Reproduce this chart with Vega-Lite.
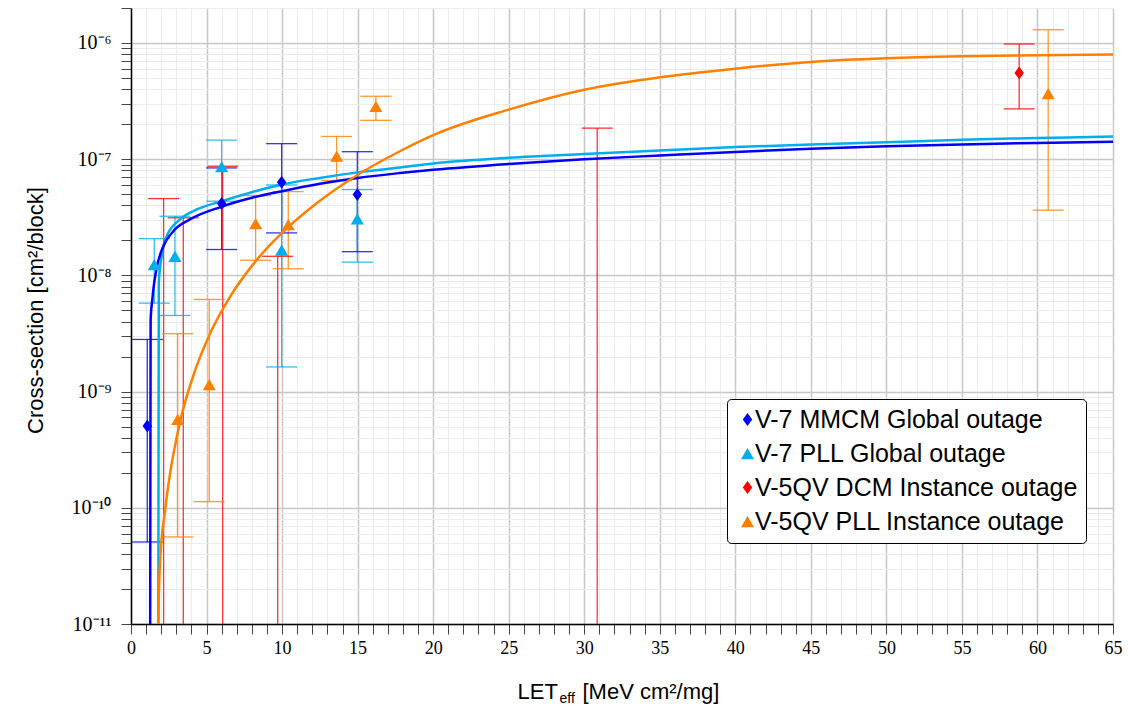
{
  "$schema": "https://vega.github.io/schema/vega-lite/v6.json",
  "width": 982,
  "height": 616,
  "autosize": {"type": "none"},
  "padding": {"left": 131, "top": 8, "right": 15, "bottom": 87},
  "background": "white",
  "config": {
    "view": {"stroke": null},
    "font": "Liberation Sans",
    "legend": {
      "strokeColor": "black",
      "fillColor": "white",
      "cornerRadius": 4,
      "padding": 8,
      "labelFont": "Liberation Sans",
      "labelFontSize": 25,
      "labelColor": "black",
      "labelLimit": 1000,
      "labelOffset": -5,
      "rowPadding": 8,
      "symbolSize": 225,
      "symbolStrokeWidth": 0
    }
  },
  "datasets": {
    "curves": [
      {"s": "V-7 PLL Global outage", "LET": 1.78, "sigma": 1e-13},
      {"s": "V-7 PLL Global outage", "LET": 1.81, "sigma": 1e-11},
      {"s": "V-7 PLL Global outage", "LET": 1.84, "sigma": 8.6e-9},
      {"s": "V-7 PLL Global outage", "LET": 2.03, "sigma": 1.46e-8},
      {"s": "V-7 PLL Global outage", "LET": 2.36, "sigma": 2.17e-8},
      {"s": "V-7 PLL Global outage", "LET": 3.24, "sigma": 3.03e-8},
      {"s": "V-7 PLL Global outage", "LET": 4.35, "sigma": 3.69e-8},
      {"s": "V-7 PLL Global outage", "LET": 6, "sigma": 4.35e-8},
      {"s": "V-7 PLL Global outage", "LET": 8, "sigma": 5.2e-8},
      {"s": "V-7 PLL Global outage", "LET": 10, "sigma": 6.05e-8},
      {"s": "V-7 PLL Global outage", "LET": 12.5, "sigma": 6.9e-8},
      {"s": "V-7 PLL Global outage", "LET": 15, "sigma": 7.7e-8},
      {"s": "V-7 PLL Global outage", "LET": 17.8, "sigma": 8.5e-8},
      {"s": "V-7 PLL Global outage", "LET": 20, "sigma": 9.2e-8},
      {"s": "V-7 PLL Global outage", "LET": 25, "sigma": 1.03e-7},
      {"s": "V-7 PLL Global outage", "LET": 30, "sigma": 1.11e-7},
      {"s": "V-7 PLL Global outage", "LET": 35, "sigma": 1.19e-7},
      {"s": "V-7 PLL Global outage", "LET": 40, "sigma": 1.27e-7},
      {"s": "V-7 PLL Global outage", "LET": 45, "sigma": 1.34e-7},
      {"s": "V-7 PLL Global outage", "LET": 50, "sigma": 1.40e-7},
      {"s": "V-7 PLL Global outage", "LET": 55, "sigma": 1.47e-7},
      {"s": "V-7 PLL Global outage", "LET": 60, "sigma": 1.52e-7},
      {"s": "V-7 PLL Global outage", "LET": 65, "sigma": 1.57e-7},
      {"s": "V-7 MMCM Global outage", "LET": 1.24, "sigma": 1e-13},
      {"s": "V-7 MMCM Global outage", "LET": 1.27, "sigma": 1e-11},
      {"s": "V-7 MMCM Global outage", "LET": 1.30, "sigma": 4.2e-9},
      {"s": "V-7 MMCM Global outage", "LET": 1.41, "sigma": 6.2e-9},
      {"s": "V-7 MMCM Global outage", "LET": 1.48, "sigma": 7.6e-9},
      {"s": "V-7 MMCM Global outage", "LET": 1.7, "sigma": 1.16e-8},
      {"s": "V-7 MMCM Global outage", "LET": 2.14, "sigma": 1.78e-8},
      {"s": "V-7 MMCM Global outage", "LET": 2.8, "sigma": 2.4e-8},
      {"s": "V-7 MMCM Global outage", "LET": 3.9, "sigma": 3.03e-8},
      {"s": "V-7 MMCM Global outage", "LET": 6, "sigma": 3.9e-8},
      {"s": "V-7 MMCM Global outage", "LET": 8, "sigma": 4.65e-8},
      {"s": "V-7 MMCM Global outage", "LET": 10, "sigma": 5.3e-8},
      {"s": "V-7 MMCM Global outage", "LET": 12.5, "sigma": 6.14e-8},
      {"s": "V-7 MMCM Global outage", "LET": 15, "sigma": 6.9e-8},
      {"s": "V-7 MMCM Global outage", "LET": 17.8, "sigma": 7.6e-8},
      {"s": "V-7 MMCM Global outage", "LET": 20, "sigma": 8.1e-8},
      {"s": "V-7 MMCM Global outage", "LET": 25, "sigma": 9.1e-8},
      {"s": "V-7 MMCM Global outage", "LET": 30, "sigma": 1.0e-7},
      {"s": "V-7 MMCM Global outage", "LET": 35, "sigma": 1.075e-7},
      {"s": "V-7 MMCM Global outage", "LET": 40, "sigma": 1.155e-7},
      {"s": "V-7 MMCM Global outage", "LET": 45, "sigma": 1.23e-7},
      {"s": "V-7 MMCM Global outage", "LET": 50, "sigma": 1.29e-7},
      {"s": "V-7 MMCM Global outage", "LET": 55, "sigma": 1.34e-7},
      {"s": "V-7 MMCM Global outage", "LET": 60, "sigma": 1.38e-7},
      {"s": "V-7 MMCM Global outage", "LET": 65, "sigma": 1.41e-7},
      {"s": "V-5QV PLL Instance outage", "LET": 1.78, "sigma": 1e-12},
      {"s": "V-5QV PLL Instance outage", "LET": 1.807, "sigma": 1e-11},
      {"s": "V-5QV PLL Instance outage", "LET": 1.92, "sigma": 3.37e-11},
      {"s": "V-5QV PLL Instance outage", "LET": 2.25, "sigma": 9.4e-11},
      {"s": "V-5QV PLL Instance outage", "LET": 2.58, "sigma": 1.95e-10},
      {"s": "V-5QV PLL Instance outage", "LET": 3.24, "sigma": 5.43e-10},
      {"s": "V-5QV PLL Instance outage", "LET": 4.24, "sigma": 1.52e-9},
      {"s": "V-5QV PLL Instance outage", "LET": 5.23, "sigma": 3.15e-9},
      {"s": "V-5QV PLL Instance outage", "LET": 6.55, "sigma": 6.53e-9},
      {"s": "V-5QV PLL Instance outage", "LET": 8.2, "sigma": 1.3e-8},
      {"s": "V-5QV PLL Instance outage", "LET": 9.99, "sigma": 2.32e-8},
      {"s": "V-5QV PLL Instance outage", "LET": 12.18, "sigma": 4.08e-8},
      {"s": "V-5QV PLL Instance outage", "LET": 14.96, "sigma": 7.28e-8},
      {"s": "V-5QV PLL Instance outage", "LET": 17.8, "sigma": 1.17e-7},
      {"s": "V-5QV PLL Instance outage", "LET": 20, "sigma": 1.61e-7},
      {"s": "V-5QV PLL Instance outage", "LET": 25, "sigma": 2.67e-7},
      {"s": "V-5QV PLL Instance outage", "LET": 30, "sigma": 3.96e-7},
      {"s": "V-5QV PLL Instance outage", "LET": 35, "sigma": 5.06e-7},
      {"s": "V-5QV PLL Instance outage", "LET": 40, "sigma": 6.01e-7},
      {"s": "V-5QV PLL Instance outage", "LET": 45, "sigma": 6.87e-7},
      {"s": "V-5QV PLL Instance outage", "LET": 50, "sigma": 7.38e-7},
      {"s": "V-5QV PLL Instance outage", "LET": 55, "sigma": 7.67e-7},
      {"s": "V-5QV PLL Instance outage", "LET": 60, "sigma": 7.83e-7},
      {"s": "V-5QV PLL Instance outage", "LET": 65, "sigma": 7.94e-7}
    ],
    "pts": [
      {"s": "V-7 MMCM Global outage", "LET": 1.08, "sigma": 5.05e-10, "lower": 5.08e-11, "upper": 2.81e-9},
      {"s": "V-7 MMCM Global outage", "LET": 6.0, "sigma": 4.15e-8, "lower": 1.67e-8, "upper": 8.41e-8},
      {"s": "V-7 MMCM Global outage", "LET": 9.97, "sigma": 6.32e-8, "lower": 2.32e-8, "upper": 1.36e-7},
      {"s": "V-7 MMCM Global outage", "LET": 14.98, "sigma": 4.97e-8, "lower": 1.6e-8, "upper": 1.16e-7},
      {"s": "V-7 PLL Global outage", "LET": 1.54, "sigma": 1.24e-8, "lower": 5.77e-9, "upper": 2.07e-8},
      {"s": "V-7 PLL Global outage", "LET": 2.91, "sigma": 1.46e-8, "lower": 4.52e-9, "upper": 3.23e-8},
      {"s": "V-7 PLL Global outage", "LET": 6.0, "sigma": 8.63e-8, "lower": 4.35e-8, "upper": 1.46e-7},
      {"s": "V-7 PLL Global outage", "LET": 9.97, "sigma": 1.65e-8, "lower": 1.63e-9, "upper": 6.0e-8},
      {"s": "V-7 PLL Global outage", "LET": 14.98, "sigma": 3.07e-8, "lower": 1.3e-8, "upper": 5.48e-8},
      {"s": "V-5QV DCM Instance outage", "LET": 2.16, "sigma": null, "lower": 1e-13, "upper": 4.58e-8},
      {"s": "V-5QV DCM Instance outage", "LET": 3.46, "sigma": null, "lower": 1e-13, "upper": 3.13e-8},
      {"s": "V-5QV DCM Instance outage", "LET": 6.07, "sigma": null, "lower": 1e-13, "upper": 8.69e-8},
      {"s": "V-5QV DCM Instance outage", "LET": 9.71, "sigma": null, "lower": 1e-13, "upper": 1.46e-8},
      {"s": "V-5QV DCM Instance outage", "LET": 30.86, "sigma": null, "lower": 1e-13, "upper": 1.85e-7},
      {"s": "V-5QV DCM Instance outage", "LET": 58.79, "sigma": 5.52e-7, "lower": 2.71e-7, "upper": 9.8e-7},
      {"s": "V-5QV PLL Instance outage", "LET": 3.09, "sigma": 5.77e-10, "lower": 5.61e-11, "upper": 3.15e-9},
      {"s": "V-5QV PLL Instance outage", "LET": 5.18, "sigma": 1.15e-9, "lower": 1.13e-10, "upper": 6.21e-9},
      {"s": "V-5QV PLL Instance outage", "LET": 8.25, "sigma": 2.79e-8, "lower": 1.35e-8, "upper": 4.86e-8},
      {"s": "V-5QV PLL Instance outage", "LET": 10.41, "sigma": 2.74e-8, "lower": 1.14e-8, "upper": 5.26e-8},
      {"s": "V-5QV PLL Instance outage", "LET": 13.61, "sigma": 1.06e-7, "lower": 6.55e-8, "upper": 1.57e-7},
      {"s": "V-5QV PLL Instance outage", "LET": 16.21, "sigma": 2.85e-7, "lower": 2.16e-7, "upper": 3.48e-7},
      {"s": "V-5QV PLL Instance outage", "LET": 60.71, "sigma": 3.66e-7, "lower": 3.64e-8, "upper": 1.3e-6}
    ]
  },
  "resolve": {"axis": {"x": "independent"}},
  "layer": [
    {
      "data": {"name": "pts"},
      "mark": {"type": "rule", "strokeWidth": 1.3, "opacity": 0.8, "clip": true},
      "encoding": {
        "x": {
          "field": "LET", "type": "quantitative",
          "scale": {"domain": [0, 65], "nice": false, "zero": false},
          "axis": {
            "orient": "bottom",
            "domain": false, "ticks": false, "labels": false, "grid": false,
            "title": "LET",
            "titleFont": "Liberation Sans",
            "titleFontSize": 22,
            "titleFontWeight": "normal",
            "titleColor": "black",
            "titleX": 386,
            "titleY": 74,
            "titleAlign": "left",
            "titleBaseline": "alphabetic"
          }
        },
        "y": {"field": "lower", "type": "quantitative", "scale": {"type": "log", "domain": [1e-11, 2e-6], "nice": false}, "axis": {"title": "Cross-section [cm²/block]"}},
        "y2": {"field": "upper"},
        "stroke": {"field": "s", "type": "nominal", "scale": {"domain": ["V-5QV PLL Instance outage", "V-5QV DCM Instance outage", "V-7 PLL Global outage", "V-7 MMCM Global outage"], "range": ["#ff8000", "#ff0000", "#00aeef", "#0000ff"]}, "legend": null}
      }
    },
    {
      "data": {"name": "pts"},
      "mark": {"type": "tick", "orient": "horizontal", "size": 31, "thickness": 1.3, "opacity": 0.8, "clip": true},
      "encoding": {
        "x": {"field": "LET", "type": "quantitative", "scale": {"domain": [0, 65], "nice": false, "zero": false}, "axis": null},
        "y": {"field": "lower", "type": "quantitative", "scale": {"type": "log", "domain": [1e-11, 2e-6], "nice": false}, "axis": {"title": "Cross-section [cm²/block]"}},
        "fill": {"field": "s", "type": "nominal", "scale": {"domain": ["V-5QV PLL Instance outage", "V-5QV DCM Instance outage", "V-7 PLL Global outage", "V-7 MMCM Global outage"], "range": ["#ff8000", "#ff0000", "#00aeef", "#0000ff"]}, "legend": null}
      }
    },
    {
      "data": {"name": "pts"},
      "mark": {"type": "tick", "orient": "horizontal", "size": 31, "thickness": 1.3, "opacity": 0.8, "clip": true},
      "encoding": {
        "x": {"field": "LET", "type": "quantitative", "scale": {"domain": [0, 65], "nice": false, "zero": false}, "axis": null},
        "y": {"field": "upper", "type": "quantitative", "scale": {"type": "log", "domain": [1e-11, 2e-6], "nice": false}, "axis": {"title": "Cross-section [cm²/block]"}},
        "fill": {"field": "s", "type": "nominal", "scale": {"domain": ["V-5QV PLL Instance outage", "V-5QV DCM Instance outage", "V-7 PLL Global outage", "V-7 MMCM Global outage"], "range": ["#ff8000", "#ff0000", "#00aeef", "#0000ff"]}, "legend": null}
      }
    },
    {
      "data": {"name": "curves"},
      "mark": {"type": "line", "strokeWidth": 2.5, "clip": true, "interpolate": "monotone"},
      "encoding": {
        "x": {
          "field": "LET", "type": "quantitative",
          "scale": {"domain": [0, 65], "nice": false, "zero": false},
          "axis": {
            "orient": "bottom",
            "values": [0,1,2,3,4,5,6,7,8,9,10,11,12,13,14,15,16,17,18,19,20,21,22,23,24,25,26,27,28,29,30,31,32,33,34,35,36,37,38,39,40,41,42,43,44,45,46,47,48,49,50,51,52,53,54,55,56,57,58,59,60,61,62,63,64,65],
            "labelExpr": "datum.value % 5 === 0 ? datum.label : ''",
            "labelOverlap": false,
            "labelFlush": false,
            "labelFont": "Liberation Serif",
            "labelFontSize": 18,
            "labelColor": "black",
            "labelPadding": 5,
            "tickSize": 10,
            "tickColor": "#444444",
            "tickWidth": 1,
            "domainColor": "black",
            "domainWidth": 1.5,
            "grid": true,
            "gridColor": {"condition": {"test": "datum.value % 5 === 0", "value": "#c8c8c8"}, "value": "#ececec"},
            "gridWidth": {"condition": {"test": "datum.value % 5 === 0", "value": 1.5}, "value": 1},
            "title": "[MeV cm²/mg]",
            "titleFont": "Liberation Sans",
            "titleFontSize": 22,
            "titleFontWeight": "normal",
            "titleColor": "black",
            "titleX": 451,
            "titleY": 74,
            "titleAlign": "left",
            "titleBaseline": "alphabetic"
          }
        },
        "y": {
          "field": "sigma", "type": "quantitative",
          "scale": {"type": "log", "domain": [1e-11, 2e-6], "nice": false},
          "axis": {
            "values": [1e-11,2e-11,3e-11,4e-11,5e-11,6e-11,7e-11,8e-11,9e-11,1e-10,2e-10,3e-10,4e-10,5e-10,6e-10,7e-10,8e-10,9e-10,1e-9,2e-9,3e-9,4e-9,5e-9,6e-9,7e-9,8e-9,9e-9,1e-8,2e-8,3e-8,4e-8,5e-8,6e-8,7e-8,8e-8,9e-8,1e-7,2e-7,3e-7,4e-7,5e-7,6e-7,7e-7,8e-7,9e-7,1e-6,2e-6],
            "labelExpr": "abs(log(datum.value)/LN10 - round(log(datum.value)/LN10)) < 0.01 ? '10' + ['⁻¹¹','⁻¹⁰','⁻⁹','⁻⁸','⁻⁷','⁻⁶'][round(log(datum.value)/LN10) + 11] : ''",
            "labelOverlap": false,
            "labelFlush": false,
            "labelFont": "Liberation Serif",
            "labelFontSize": 20,
            "labelColor": "black",
            "labelPadding": 10,
            "tickSize": 10,
            "tickColor": "#444444",
            "tickWidth": 1,
            "domainColor": "black",
            "domainWidth": 1.5,
            "grid": true,
            "gridColor": {"condition": {"test": "abs(log(datum.value)/LN10 - round(log(datum.value)/LN10)) < 0.01", "value": "#c8c8c8"}, "value": "#ececec"},
            "gridWidth": {"condition": {"test": "abs(log(datum.value)/LN10 - round(log(datum.value)/LN10)) < 0.01", "value": 1.5}, "value": 1},
            "title": "Cross-section [cm²/block]",
            "titleFont": "Liberation Sans",
            "titleFontSize": 22,
            "titleFontWeight": "normal",
            "titleColor": "black",
            "titleX": -96,
            "titleY": 302,
            "titleAlign": "center",
            "titleBaseline": "middle"
          }
        },
        "stroke": {"field": "s", "type": "nominal", "scale": {"domain": ["V-5QV PLL Instance outage", "V-5QV DCM Instance outage", "V-7 PLL Global outage", "V-7 MMCM Global outage"], "range": ["#ff8000", "#ff0000", "#00aeef", "#0000ff"]}, "legend": null}
      }
    },
    {
      "data": {"name": "pts"},
      "transform": [{"filter": "isValid(datum.sigma)"}],
      "mark": {"type": "point", "filled": true, "size": 225, "opacity": 1, "strokeWidth": 0, "clip": true},
      "encoding": {
        "x": {
          "field": "LET", "type": "quantitative",
          "scale": {"domain": [0, 65], "nice": false, "zero": false},
          "axis": {
            "orient": "bottom",
            "domain": false, "ticks": false, "labels": false, "grid": false,
            "title": "eff",
            "titleFont": "Liberation Sans",
            "titleFontSize": 14,
            "titleFontWeight": "normal",
            "titleColor": "black",
            "titleX": 428,
            "titleY": 78,
            "titleAlign": "left",
            "titleBaseline": "alphabetic"
          }
        },
        "y": {"field": "sigma", "type": "quantitative", "scale": {"type": "log", "domain": [1e-11, 2e-6], "nice": false}, "axis": {"title": "Cross-section [cm²/block]"}},
        "color": {
          "field": "s", "type": "nominal",
          "scale": {"domain": ["V-7 MMCM Global outage", "V-7 PLL Global outage", "V-5QV DCM Instance outage", "V-5QV PLL Instance outage"], "range": ["#0000ff", "#00aeef", "#ff0000", "#ff8000"]},
          "legend": {"title": null, "orient": "none", "legendX": 596, "legendY": 391}
        },
        "shape": {
          "field": "s", "type": "nominal",
          "scale": {"domain": ["V-7 MMCM Global outage", "V-7 PLL Global outage", "V-5QV DCM Instance outage", "V-5QV PLL Instance outage"], "range": ["M0,-0.87L0.63,0L0,0.87L-0.63,0Z", "M0,-0.75L0.87,0.75L-0.87,0.75Z", "M0,-0.87L0.63,0L0,0.87L-0.63,0Z", "M0,-0.75L0.87,0.75L-0.87,0.75Z"]},
          "legend": {"title": null, "orient": "none", "legendX": 596, "legendY": 391}
        }
      }
    }
  ]
}
